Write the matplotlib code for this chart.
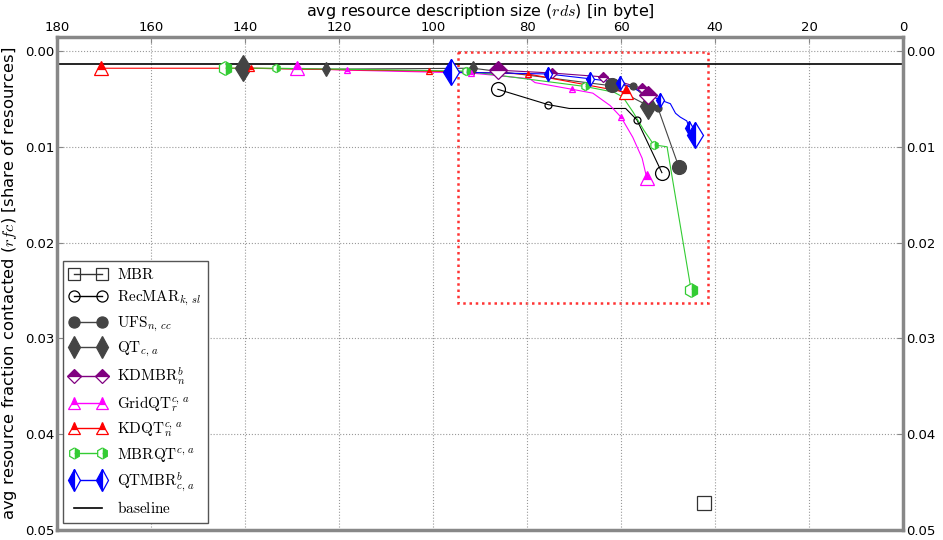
import numpy as np
import matplotlib
matplotlib.use("Agg")
import matplotlib.pyplot as plt
from matplotlib.lines import Line2D
from matplotlib.patches import Rectangle

plt.rcParams['mathtext.fontset'] = 'cm'
plt.rcParams['font.family'] = ['DejaVu Sans']

# datos (x = rds en byte, y = rfc)
baseline_y = 0.00135

mbr_x = [42.3]
mbr_y = [0.0472]

recmar_x = [86.2, 75.5, 71.0, 59.0, 56.6, 51.3]
recmar_y = [0.0040, 0.0056, 0.0060, 0.0060, 0.0072, 0.0127]
recmar_mk = [0, 1, 4, 5]

ufs_x = [62.0, 57.4, 52.1, 47.7]
ufs_y = [0.0035, 0.0037, 0.0060, 0.0121]
ufs_mk = [0, 1, 2, 3]

qt_x = [140.4, 122.8, 91.5, 62.5, 54.3]
qt_y = [0.0018, 0.0019, 0.0018, 0.0036, 0.0057]
qt_mk = [0, 1, 2, 4]

kdmbr_x = [86.2, 74.7, 63.8, 55.5, 54.3]
kdmbr_y = [0.0020, 0.0023, 0.0027, 0.0039, 0.0046]
kdmbr_mk = [0, 1, 2, 3, 4]

gridqt_x = [128.9, 118.3, 91.9, 79.4, 78.3, 70.4, 66.0, 62.3, 60.0, 57.5, 55.5, 54.5]
gridqt_y = [0.0018, 0.0020, 0.0023, 0.0029, 0.0033, 0.0040, 0.0044, 0.0057, 0.0069, 0.0090, 0.0112, 0.0133]
gridqt_mk = [0, 1, 2, 5, 8, 11]

kdqt_x = [170.6, 138.7, 100.9, 79.8, 59.0]
kdqt_y = [0.0018, 0.0018, 0.0021, 0.0024, 0.0043]
kdqt_mk = [0, 1, 2, 3, 4]

mbrqt_x = [144.3, 133.4, 93.0, 67.7, 61.5, 59.6, 57.4, 55.1, 53.0, 50.2, 45.1]
mbrqt_y = [0.0018, 0.0018, 0.0021, 0.0037, 0.0043, 0.0048, 0.0064, 0.0083, 0.0098, 0.0100, 0.0249]
mbrqt_mk = [0, 1, 2, 3, 8, 10]

qtmbr_x = [96.2, 75.5, 66.6, 60.2, 51.7, 49.5, 48.4, 47.4, 46.0, 45.5, 44.3]
qtmbr_y = [0.0022, 0.0024, 0.0029, 0.0033, 0.0051, 0.0055, 0.0065, 0.0069, 0.0073, 0.0080, 0.0088]
qtmbr_mk = [0, 1, 2, 3, 4, 9, 10]

# zona ampliada (recuadro rojo)
zoom_x = [94.7, 41.5]
zoom_y = [0.0001, 0.0263]

series = [
    # label, x, y, marker idx, color, marker, fillstyle, facecolor
    (r'$\mathrm{RecMAR}_{k,\,sl}$', recmar_x, recmar_y, recmar_mk, 'black', 'o', 'full', 'none'),
    (r'$\mathrm{UFS}_{n,\,cc}$', ufs_x, ufs_y, ufs_mk, '#444444', 'o', 'full', '#444444'),
    (r'$\mathrm{QT}_{c,\,a}$', qt_x, qt_y, qt_mk, '#444444', 'd', 'full', '#444444'),
    (r'$\mathrm{KDMBR}_{n}^{b}$', kdmbr_x, kdmbr_y, kdmbr_mk, '#800080', 'D', 'top', '#800080'),
    (r'$\mathrm{GridQT}_{r}^{c,\,a}$', gridqt_x, gridqt_y, gridqt_mk, '#ff00ff', '^', 'top', '#ff00ff'),
    (r'$\mathrm{KDQT}_{n}^{c,\,a}$', kdqt_x, kdqt_y, kdqt_mk, 'red', '^', 'top', 'red'),
    (r'$\mathrm{MBRQT}^{c,\,a}$', mbrqt_x, mbrqt_y, mbrqt_mk, '#33cc33', 'h', 'right', '#33cc33'),
    (r'$\mathrm{QTMBR}_{c,\,a}^{b}$', qtmbr_x, qtmbr_y, qtmbr_mk, 'blue', 'd', 'left', 'blue'),
]

big = {'o': 10, 'd': 13, 'D': 9, '^': 10, 'h': 10, 's': 10}
small = {'o': 5, 'd': 7, 'D': 5, '^': 5, 'h': 6, 's': 5}
legsz = {'o': 8, 'd': 11, 'D': 7.5, '^': 8, 'h': 8, 's': 8.5}

fig = plt.figure(figsize=(9.43, 5.4), dpi=100)
ax = fig.add_axes([57/943, 1-530/540, 846/943, 493/540])

ax.axhline(baseline_y, color='black', lw=1.2, zorder=2)

ax.add_patch(Rectangle((zoom_x[0], zoom_y[0]), zoom_x[1]-zoom_x[0], zoom_y[1]-zoom_y[0],
                       fill=False, ec='#ff3333', lw=1.8, ls=(0, (1, 1.5)), zorder=1))

handles = [Line2D([], [], color='#333333', lw=1, marker='s', ms=legsz['s'],
                  mfc='none', mec='#333333', mew=0.9)]
labels = [r'$\mathrm{MBR}$']
ax.plot(mbr_x, mbr_y, ls='none', marker='s', ms=big['s'], mfc='none', mec='#333333', mew=0.9)

for lab, x, y, mk, c, m, fs, fc in series:
    x = np.array(x)
    y = np.array(y)
    ax.plot(x, y, color=c, lw=0.8, zorder=3)
    ends = [mk[0], mk[-1]]
    mids = mk[1:-1]
    kw = dict(marker=m, color=c, mec=c, mew=0.9, fillstyle=fs,
              mfc=fc, markerfacecoloralt='white')
    ax.plot(x[mids], y[mids], ls='none', ms=small[m], zorder=4, **kw)
    ax.plot(x[ends], y[ends], ls='none', ms=big[m], zorder=4, **kw)
    handles.append(Line2D([], [], lw=1, ms=legsz[m], **kw))
    labels.append(lab)

handles.append(Line2D([], [], color='black', lw=1.2))
labels.append(r'$\mathrm{baseline}$')

ax.set_xlim(180, 0)
ax.set_ylim(0.05, -0.00146)
ax.set_xticks(np.arange(180, -1, -20))
ax.set_yticks([0.0, 0.01, 0.02, 0.03, 0.04, 0.05])
ax.set_yticklabels(['0.00', '0.01', '0.02', '0.03', '0.04', '0.05'])
ax.xaxis.tick_top()
ax.xaxis.set_label_position('top')
ax.tick_params(axis='both', direction='in', labelsize=9.5, length=4, pad=2, color='#888888')
ax.tick_params(axis='y', right=True, labelright=True)
ax.grid(True, ls=':', color='#999999', lw=0.8)
for s in ax.spines.values():
    s.set_color('#888888')
    s.set_linewidth(2.5)

ax.set_xlabel(r'avg resource description size ($rds$) [in byte]', fontsize=11.5, labelpad=4)
ax.set_ylabel(r'avg resource fraction contacted ($rfc$) [share of resources]', fontsize=11.8, labelpad=4)

leg = ax.legend(handles, labels, loc='lower left', bbox_to_anchor=(0.007, 0.014), borderaxespad=0,
                numpoints=2, fontsize=11, labelspacing=0.42, handlelength=2.4, handletextpad=0.7,
                borderpad=0.45, fancybox=False, framealpha=1)
leg.get_frame().set_edgecolor('#555555')
leg.get_frame().set_linewidth(1.0)

fig.savefig('out.png', dpi=100)
